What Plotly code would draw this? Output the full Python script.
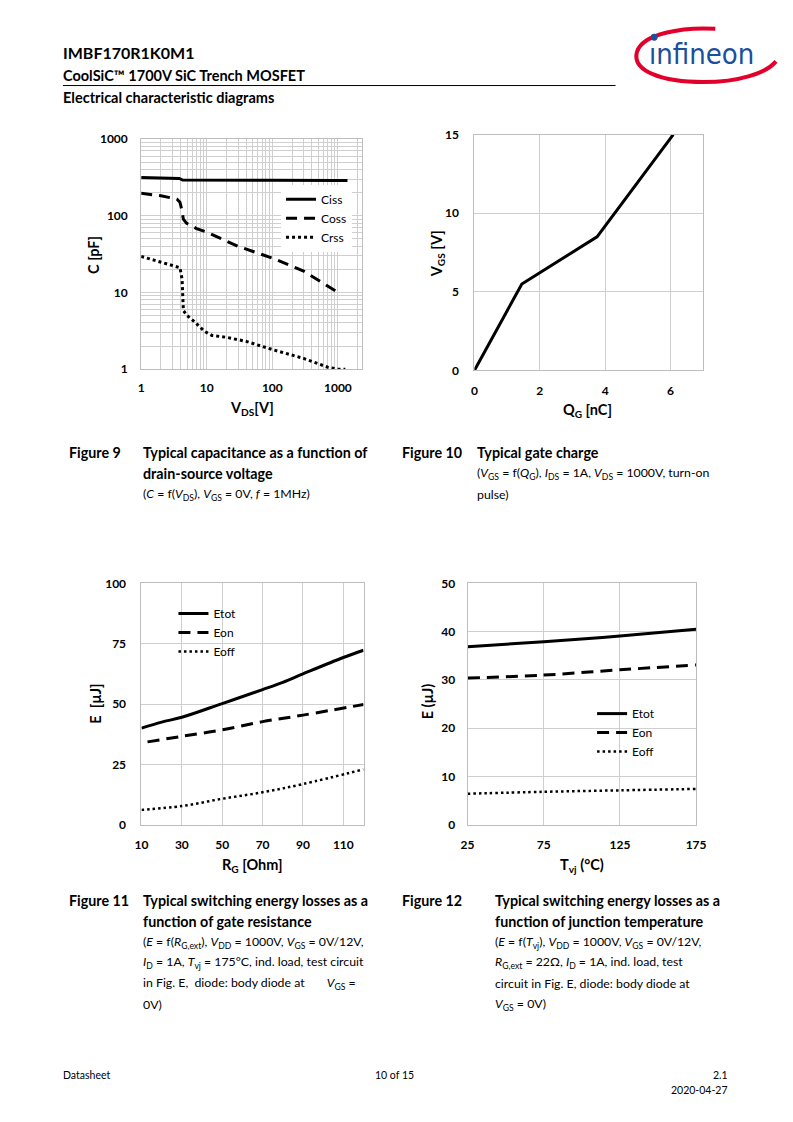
import math
import plotly.graph_objects as go

# page is 793 x 1122; the browser body keeps an 8px margin, so the figure is 777 x 1106
PAGE_W, PAGE_H = 793, 1122
OFF = 8
W, H = PAGE_W - 2 * OFF, PAGE_H - 2 * OFF

# ---------------- data ----------------
# Figure 9: capacitances vs V_DS
vds_ciss = [1, 2, 3.8, 4.3, 10, 100, 1000, 1400]
ciss = [316, 312, 306, 292, 290, 289, 288, 288]
vds_coss = [1, 2, 3.5, 3.9, 4.15, 4.4, 4.9, 7, 10, 30, 100, 300, 1000]
coss = [196, 182, 165, 150, 120, 90, 80, 68, 61, 40, 28, 19, 10]
vds_crss = [1, 2, 3.9, 4.2, 4.3, 4.4, 5, 6.2, 9.3, 12, 20, 40, 100, 300, 700, 1000, 1300]
crss = [29.5, 25, 21, 15, 8, 5.8, 5.0, 4.3, 3.1, 2.75, 2.6, 2.3, 1.8, 1.38, 1.06, 1.0, 1.0]
c_ticks = [1, 10, 100, 1000]
c_minor = [m * d for d in (1, 10, 100, 1000) for m in range(2, 10)]

# Figure 10: gate charge
qg = [0, 1.45, 3.75, 6.08]
vgs = [0, 5.5, 8.5, 15]

# Figure 11: switching energy vs R_G
rg_tot = [10, 20, 30, 50, 70, 80, 90, 110, 120]
etot_rg = [40, 42.5, 44.5, 50.2, 56, 59, 62.5, 69.3, 72.3]
rg_on = [13, 30, 50, 70, 90, 120]
eon_rg = [34.3, 36.6, 39.3, 42.7, 45.4, 49.8]
rg_off = [10, 30, 50, 70, 90, 120]
eoff_rg = [6.1, 7.7, 10.7, 13.4, 16.8, 22.9]
rg_ticks = [10, 30, 50, 70, 90, 110]

# Figure 12: switching energy vs T_vj
tvj = [25, 75, 125, 175]
etot_t = [36.9, 37.9, 39.1, 40.5]
eon_t = [30.4, 31.0, 32.1, 33.1]
eoff_t = [6.4, 6.8, 7.1, 7.4]
tvj_ticks = [25, 75, 125, 175]

# ---------------- helpers ----------------
def px(x):
    return (x - OFF) / W

def py(y):
    return 1 - (y - OFF) / H

FONT = "Lato, sans-serif"
GRID = "#cfcfcf"
AXL = "#bdbdbd"

fig = go.Figure()

# Figure 9 traces
fig.add_trace(go.Scatter(x=vds_ciss, y=ciss, mode="lines", name="Ciss",
                         line=dict(color="black", width=3), xaxis="x", yaxis="y", legend="legend"))
fig.add_trace(go.Scatter(x=vds_coss, y=coss, mode="lines", name="Coss",
                         line=dict(color="black", width=3, dash="11px,7px"), xaxis="x", yaxis="y", legend="legend"))
fig.add_trace(go.Scatter(x=vds_crss, y=crss, mode="lines", name="Crss",
                         line=dict(color="black", width=3, dash="3px,3px"), xaxis="x", yaxis="y", legend="legend"))

# Figure 10 trace
fig.add_trace(go.Scatter(x=qg, y=vgs, mode="lines", showlegend=False,
                         line=dict(color="black", width=3), xaxis="x2", yaxis="y2"))

# Figure 11 traces
fig.add_trace(go.Scatter(x=rg_tot, y=etot_rg, mode="lines", name="Etot", line_shape="spline",
                         line=dict(color="black", width=3), xaxis="x3", yaxis="y3", legend="legend2"))
fig.add_trace(go.Scatter(x=rg_on, y=eon_rg, mode="lines", name="Eon", line_shape="spline",
                         line=dict(color="black", width=3, dash="12px,7px"), xaxis="x3", yaxis="y3", legend="legend2"))
fig.add_trace(go.Scatter(x=rg_off, y=eoff_rg, mode="lines", name="Eoff", line_shape="spline",
                         line=dict(color="black", width=2.5, dash="2.5px,3px"), xaxis="x3", yaxis="y3", legend="legend2"))

# Figure 12 traces
fig.add_trace(go.Scatter(x=tvj, y=etot_t, mode="lines", name="Etot", line_shape="spline",
                         line=dict(color="black", width=3), xaxis="x4", yaxis="y4", legend="legend3"))
fig.add_trace(go.Scatter(x=tvj, y=eon_t, mode="lines", name="Eon", line_shape="spline",
                         line=dict(color="black", width=3, dash="12px,7px"), xaxis="x4", yaxis="y4", legend="legend3"))
fig.add_trace(go.Scatter(x=tvj, y=eoff_t, mode="lines", name="Eoff", line_shape="spline",
                         line=dict(color="black", width=2.5, dash="2.5px,3px"), xaxis="x4", yaxis="y4", legend="legend3"))

tickfont = dict(family=FONT, size=12, color="black", weight="bold")

def ax(domain, anchor, **kw):
    d = dict(domain=domain, anchor=anchor, showline=True, linecolor=AXL, linewidth=1, mirror=True,
             showgrid=True, gridcolor=GRID, gridwidth=1, zeroline=False, ticks="",
             tickfont=tickfont)
    d.update(kw)
    return d

layout_axes = dict(
    xaxis=ax([px(137), px(363)], "y", type="log", range=[0, math.log10(2350)],
             tickvals=c_ticks, ticktext=[str(v) for v in c_ticks], ticklabelstandoff=7,
             minor=dict(tickvals=c_minor, showgrid=True, gridcolor=GRID)),
    yaxis=ax([py(366), py(132.7)], "x", type="log", range=[0, 3],
             tickvals=c_ticks, ticktext=[str(v) for v in c_ticks], ticklabelstandoff=10,
             minor=dict(tickvals=c_minor, showgrid=True, gridcolor=GRID)),
    xaxis2=ax([px(477.7), px(711.7)], "y2", range=[0, 7], tickvals=[0, 2, 4, 6], ticklabelstandoff=9),
    yaxis2=ax([py(367.3), py(128.3)], "x2", range=[0, 15], tickvals=[0, 5, 10, 15], ticklabelstandoff=12),
    xaxis3=ax([px(137.3), px(364.3)], "y3", range=[10, 120], tickvals=rg_ticks, ticklabelstandoff=9),
    yaxis3=ax([py(827.7), py(583.3)], "x3", range=[0, 100], tickvals=[0, 25, 50, 75, 100], ticklabelstandoff=12),
    xaxis4=ax([px(470.7), px(704.3)], "y4", range=[25, 175], tickvals=tvj_ticks, ticklabelstandoff=9),
    yaxis4=ax([py(827.7), py(583.3)], "x4", range=[0, 50], tickvals=[0, 10, 20, 30, 40, 50], ticklabelstandoff=9),
)

fig.update_layout(
    width=W, height=H, autosize=False,
    margin=dict(l=0, r=0, t=0, b=0),
    paper_bgcolor="white", plot_bgcolor="white",
    font=dict(family=FONT, color="black", size=12),
    legend=dict(x=px(280), y=py(179), xanchor="left", yanchor="top", bgcolor="white",
                font=dict(family=FONT, size=12, color="black"), tracegroupgap=0, itemwidth=30),
    legend2=dict(x=px(170), y=py(599), xanchor="left", yanchor="top", bgcolor="rgba(0,0,0,0)",
                 font=dict(family=FONT, size=12, color="black"), itemwidth=30),
    legend3=dict(x=px(598), y=py(700.5), xanchor="left", yanchor="top", bgcolor="rgba(0,0,0,0)",
                 font=dict(family=FONT, size=12, color="black"), itemwidth=30),
    **layout_axes,
)

# ---------------- page text ----------------
def txt(x, y, s, size=13, bold=False, anchor="left", color="black", family=FONT, angle=0):
    fig.add_annotation(x=px(x), y=py(y), xref="paper", yref="paper", text=s, showarrow=False,
                       xanchor=anchor, yanchor="middle", textangle=angle,
                       font=dict(family=family, size=size, color=color, weight="bold" if bold else "normal"))

# axis titles
ts = 14.5
txt(250, 406, "V<sub>DS</sub>[V]", ts, True, "center")
txt(88, 250, "C [pF]", ts, True, "center", angle=-90)
txt(593, 408, "Q<sub>G</sub> [nC]", ts, True, "center")
txt(440, 249, "V<sub>GS</sub> [V]", ts, True, "center", angle=-90)
txt(250, 869, "R<sub>G</sub> [Ohm]", ts, True, "center")
txt(90, 705, "E  [µJ]", ts, True, "center", angle=-90)
txt(588, 869, "T<sub>vj</sub> (°C)", ts, True, "center")
txt(430, 703, "E (µJ)", ts, True, "center", angle=-90)

# header
txt(55, 45, "IMBF170R1K0M1", 16, True)
txt(55, 68, "CoolSiC™ 1700V SiC Trench MOSFET", 14.5, True)
txt(55, 91, "Electrical characteristic diagrams", 14.5, True)
fig.add_shape(type="line", xref="paper", yref="paper", x0=px(57), x1=px(622), y0=py(78.5), y1=py(78.5),
              line=dict(color="black", width=1))

# logo
fig.add_shape(type="path", xref="paper", yref="paper",
              path=(f"M {px(724)},{py(21)} C {px(690)},{py(19)} {px(650)},{py(26)} {px(644)},{py(44)} "
                    f"C {px(638)},{py(64)} {px(670)},{py(75)} {px(712)},{py(75)} "
                    f"C {px(748)},{py(75)} {px(776)},{py(66)} {px(786)},{py(54)}"),
              line=dict(color="#e2002a", width=4))
txt(710, 47, "ınfineon", 29, False, "center", "#1b4f9c", "'DejaVu Sans Condensed', 'Liberation Sans Narrow', sans-serif")
fig.add_shape(type="circle", xref="paper", yref="paper", x0=px(658), x1=px(665), y0=py(33), y1=py(26),
              fillcolor="#1b4f9c", line=dict(width=0))

# captions
cs = 14.3
ds = 12.3
txt(61, 451, "Figure 9", cs, True)
txt(137, 451, "Typical capacitance as a function of", cs, True)
txt(137, 472, "drain-source voltage", cs, True)
txt(137, 493, "(<i>C</i> = f(<i>V</i><sub>DS</sub>), <i>V</i><sub>GS</sub> = 0V, <i>f</i> = 1MHz)", ds)
txt(402, 451, "Figure 10", cs, True)
txt(478, 451, "Typical gate charge", cs, True)
txt(478, 472, "(<i>V</i><sub>GS</sub> = f(<i>Q</i><sub>G</sub>), <i>I</i><sub>DS</sub> = 1A, <i>V</i><sub>DS</sub> = 1000V, turn-on", ds)
txt(478, 493, "pulse)", ds)

txt(61, 905, "Figure 11", cs, True)
txt(137, 905, "Typical switching energy losses as a", cs, True)
txt(137, 926, "function of gate resistance", cs, True)
txt(137, 947, "(<i>E</i> = f(<i>R</i><sub>G,ext</sub>), <i>V</i><sub>DD</sub> = 1000V, <i>V</i><sub>GS</sub> = 0V/12V,", ds)
txt(137, 968, "<i>I</i><sub>D</sub> = 1A, <i>T</i><sub>vj</sub> = 175°C, ind. load, test circuit", ds)
txt(137, 989, "in Fig. E,  diode: body diode at       <i>V</i><sub>GS</sub> =", ds)
txt(137, 1010, "0V)", ds)

txt(402, 905, "Figure 12", cs, True)
txt(497, 905, "Typical switching energy losses as a", cs, True)
txt(497, 926, "function of junction temperature", cs, True)
txt(497, 947, "(<i>E</i> = f(<i>T</i><sub>vj</sub>), <i>V</i><sub>DD</sub> = 1000V, <i>V</i><sub>GS</sub> = 0V/12V,", ds)
txt(497, 968, "<i>R</i><sub>G,ext</sub> = 22Ω, <i>I</i><sub>D</sub> = 1A, ind. load, test", ds)
txt(497, 989, "circuit in Fig. E, diode: body diode at", ds)
txt(497, 1010, "<i>V</i><sub>GS</sub> = 0V)", ds)

# footer
txt(55, 1082, "Datasheet", 10.5)
txt(396, 1082, "10 of 15", 10.5, anchor="center")
txt(739, 1082, "2.1", 10.5, anchor="right")
txt(739, 1097, "2020-04-27", 10.5, anchor="right")

fig.write_html("out.html", config={"displayModeBar": False})
